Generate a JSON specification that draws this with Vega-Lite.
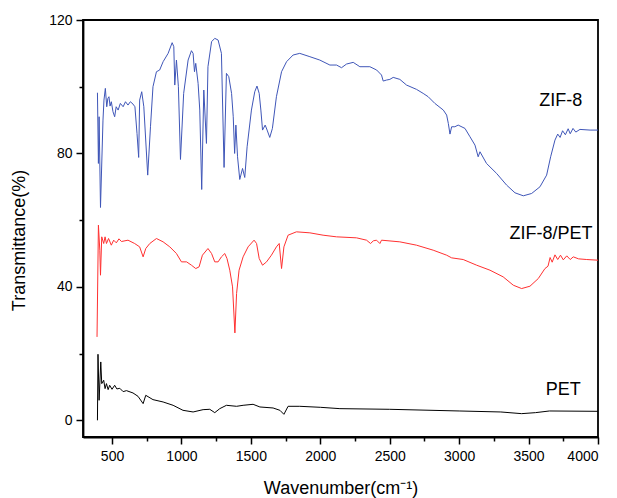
{
  "$schema": "https://vega.github.io/schema/vega-lite/v6.json",
  "width": 515,
  "height": 417,
  "padding": {"left": 83, "top": 20, "right": 19, "bottom": 61},
  "autosize": {"type": "none"},
  "background": "white",
  "config": {
    "view": {"stroke": "black", "strokeWidth": 1.8},
    "font": "Liberation Sans",
    "axis": {"domainColor": "black", "domainWidth": 1.8, "tickColor": "black", "tickWidth": 1.5, "labelColor": "black", "titleColor": "black", "labelFont": "Liberation Sans", "titleFont": "Liberation Sans", "grid": false}
  },
  "datasets": {
    "spec": [
      {"s":"ZIF-8","w":395,"t":98.2},{"s":"ZIF-8","w":402,"t":77},{"s":"ZIF-8","w":407,"t":91},{"s":"ZIF-8","w":417,"t":63.8},{"s":"ZIF-8","w":435,"t":90},{"s":"ZIF-8","w":442,"t":96},{"s":"ZIF-8","w":452,"t":99.5},{"s":"ZIF-8","w":462,"t":94},{"s":"ZIF-8","w":470,"t":96.5},{"s":"ZIF-8","w":478,"t":97},{"s":"ZIF-8","w":486,"t":94.2},{"s":"ZIF-8","w":495,"t":95.5},{"s":"ZIF-8","w":507,"t":92.5},{"s":"ZIF-8","w":519,"t":91},{"s":"ZIF-8","w":530,"t":94},{"s":"ZIF-8","w":544,"t":93},{"s":"ZIF-8","w":560,"t":95},{"s":"ZIF-8","w":580,"t":94},{"s":"ZIF-8","w":597,"t":95.5},{"s":"ZIF-8","w":615,"t":94.5},{"s":"ZIF-8","w":632,"t":95.5},{"s":"ZIF-8","w":651,"t":94.8},{"s":"ZIF-8","w":665,"t":94},{"s":"ZIF-8","w":680,"t":86},{"s":"ZIF-8","w":692,"t":78.8},{"s":"ZIF-8","w":699,"t":96},{"s":"ZIF-8","w":714,"t":98.5},{"s":"ZIF-8","w":729,"t":94},{"s":"ZIF-8","w":757,"t":73.5},{"s":"ZIF-8","w":777,"t":88},{"s":"ZIF-8","w":795,"t":100},{"s":"ZIF-8","w":820,"t":104.5},{"s":"ZIF-8","w":843,"t":105},{"s":"ZIF-8","w":868,"t":107.5},{"s":"ZIF-8","w":904,"t":110},{"s":"ZIF-8","w":933,"t":113.2},{"s":"ZIF-8","w":945,"t":112},{"s":"ZIF-8","w":952,"t":100.5},{"s":"ZIF-8","w":964,"t":108},{"s":"ZIF-8","w":978,"t":100},{"s":"ZIF-8","w":993,"t":78.2},{"s":"ZIF-8","w":1016,"t":98},{"s":"ZIF-8","w":1048,"t":108},{"s":"ZIF-8","w":1072,"t":110.8},{"s":"ZIF-8","w":1084,"t":110},{"s":"ZIF-8","w":1094,"t":104.5},{"s":"ZIF-8","w":1103,"t":107},{"s":"ZIF-8","w":1120,"t":101},{"s":"ZIF-8","w":1132,"t":93},{"s":"ZIF-8","w":1146,"t":69.2},{"s":"ZIF-8","w":1161,"t":99},{"s":"ZIF-8","w":1180,"t":83},{"s":"ZIF-8","w":1191,"t":106},{"s":"ZIF-8","w":1217,"t":113.5},{"s":"ZIF-8","w":1240,"t":114.5},{"s":"ZIF-8","w":1264,"t":114},{"s":"ZIF-8","w":1288,"t":110},{"s":"ZIF-8","w":1307,"t":75.8},{"s":"ZIF-8","w":1324,"t":104},{"s":"ZIF-8","w":1341,"t":103},{"s":"ZIF-8","w":1361,"t":98},{"s":"ZIF-8","w":1373,"t":91},{"s":"ZIF-8","w":1383,"t":80},{"s":"ZIF-8","w":1392,"t":88.5},{"s":"ZIF-8","w":1404,"t":79},{"s":"ZIF-8","w":1420,"t":72.2},{"s":"ZIF-8","w":1440,"t":75.5},{"s":"ZIF-8","w":1456,"t":72.8},{"s":"ZIF-8","w":1473,"t":82},{"s":"ZIF-8","w":1504,"t":93},{"s":"ZIF-8","w":1528,"t":98.5},{"s":"ZIF-8","w":1544,"t":100.2},{"s":"ZIF-8","w":1560,"t":98},{"s":"ZIF-8","w":1572,"t":93},{"s":"ZIF-8","w":1584,"t":87},{"s":"ZIF-8","w":1603,"t":88.5},{"s":"ZIF-8","w":1617,"t":87},{"s":"ZIF-8","w":1636,"t":84.8},{"s":"ZIF-8","w":1655,"t":87.5},{"s":"ZIF-8","w":1684,"t":97},{"s":"ZIF-8","w":1721,"t":104.5},{"s":"ZIF-8","w":1757,"t":107.5},{"s":"ZIF-8","w":1804,"t":109.5},{"s":"ZIF-8","w":1852,"t":110},{"s":"ZIF-8","w":1925,"t":109},{"s":"ZIF-8","w":1996,"t":108},{"s":"ZIF-8","w":2069,"t":106.5},{"s":"ZIF-8","w":2117,"t":106.5},{"s":"ZIF-8","w":2153,"t":105.7},{"s":"ZIF-8","w":2189,"t":106.8},{"s":"ZIF-8","w":2237,"t":107.3},{"s":"ZIF-8","w":2285,"t":106},{"s":"ZIF-8","w":2357,"t":106},{"s":"ZIF-8","w":2406,"t":105},{"s":"ZIF-8","w":2441,"t":103.5},{"s":"ZIF-8","w":2453,"t":101.7},{"s":"ZIF-8","w":2477,"t":102},{"s":"ZIF-8","w":2501,"t":102.2},{"s":"ZIF-8","w":2525,"t":102.8},{"s":"ZIF-8","w":2573,"t":102.2},{"s":"ZIF-8","w":2621,"t":100.5},{"s":"ZIF-8","w":2693,"t":99.2},{"s":"ZIF-8","w":2741,"t":98},{"s":"ZIF-8","w":2777,"t":97},{"s":"ZIF-8","w":2825,"t":95},{"s":"ZIF-8","w":2886,"t":93},{"s":"ZIF-8","w":2910,"t":91.5},{"s":"ZIF-8","w":2922,"t":89},{"s":"ZIF-8","w":2934,"t":85.8},{"s":"ZIF-8","w":2946,"t":88},{"s":"ZIF-8","w":2969,"t":88},{"s":"ZIF-8","w":2993,"t":88.5},{"s":"ZIF-8","w":3042,"t":87.5},{"s":"ZIF-8","w":3078,"t":85},{"s":"ZIF-8","w":3114,"t":82.5},{"s":"ZIF-8","w":3137,"t":79},{"s":"ZIF-8","w":3150,"t":80.5},{"s":"ZIF-8","w":3197,"t":77},{"s":"ZIF-8","w":3270,"t":74},{"s":"ZIF-8","w":3342,"t":70.5},{"s":"ZIF-8","w":3402,"t":68.2},{"s":"ZIF-8","w":3462,"t":67.3},{"s":"ZIF-8","w":3522,"t":68},{"s":"ZIF-8","w":3582,"t":70},{"s":"ZIF-8","w":3630,"t":73.5},{"s":"ZIF-8","w":3659,"t":79},{"s":"ZIF-8","w":3690,"t":84},{"s":"ZIF-8","w":3710,"t":85.8},{"s":"ZIF-8","w":3727,"t":84.8},{"s":"ZIF-8","w":3745,"t":86.8},{"s":"ZIF-8","w":3765,"t":85.6},{"s":"ZIF-8","w":3785,"t":87.4},{"s":"ZIF-8","w":3800,"t":85.9},{"s":"ZIF-8","w":3820,"t":87.5},{"s":"ZIF-8","w":3840,"t":86.4},{"s":"ZIF-8","w":3870,"t":87.2},{"s":"ZIF-8","w":3943,"t":87},{"s":"ZIF-8","w":4000,"t":87},
      {"s":"ZIF-8/PET","w":392,"t":25},{"s":"ZIF-8/PET","w":402,"t":58.5},{"s":"ZIF-8/PET","w":412,"t":51},{"s":"ZIF-8/PET","w":417,"t":43.5},{"s":"ZIF-8/PET","w":426,"t":55},{"s":"ZIF-8/PET","w":440,"t":53},{"s":"ZIF-8/PET","w":450,"t":55},{"s":"ZIF-8/PET","w":460,"t":53},{"s":"ZIF-8/PET","w":475,"t":54.5},{"s":"ZIF-8/PET","w":495,"t":52.5},{"s":"ZIF-8/PET","w":512,"t":54},{"s":"ZIF-8/PET","w":531,"t":53.2},{"s":"ZIF-8/PET","w":550,"t":54.4},{"s":"ZIF-8/PET","w":568,"t":53.6},{"s":"ZIF-8/PET","w":615,"t":54},{"s":"ZIF-8/PET","w":663,"t":53},{"s":"ZIF-8/PET","w":699,"t":52},{"s":"ZIF-8/PET","w":724,"t":49},{"s":"ZIF-8/PET","w":743,"t":51.5},{"s":"ZIF-8/PET","w":772,"t":53},{"s":"ZIF-8/PET","w":820,"t":54.5},{"s":"ZIF-8/PET","w":868,"t":53.5},{"s":"ZIF-8/PET","w":916,"t":52},{"s":"ZIF-8/PET","w":964,"t":50},{"s":"ZIF-8/PET","w":1000,"t":47.5},{"s":"ZIF-8/PET","w":1037,"t":47.5},{"s":"ZIF-8/PET","w":1072,"t":46.5},{"s":"ZIF-8/PET","w":1103,"t":45.5},{"s":"ZIF-8/PET","w":1127,"t":46},{"s":"ZIF-8/PET","w":1151,"t":49.5},{"s":"ZIF-8/PET","w":1191,"t":51.5},{"s":"ZIF-8/PET","w":1217,"t":50},{"s":"ZIF-8/PET","w":1240,"t":47.5},{"s":"ZIF-8/PET","w":1264,"t":47.5},{"s":"ZIF-8/PET","w":1288,"t":49},{"s":"ZIF-8/PET","w":1312,"t":50},{"s":"ZIF-8/PET","w":1328,"t":48.5},{"s":"ZIF-8/PET","w":1348,"t":45},{"s":"ZIF-8/PET","w":1368,"t":40},{"s":"ZIF-8/PET","w":1385,"t":26.2},{"s":"ZIF-8/PET","w":1397,"t":38},{"s":"ZIF-8/PET","w":1415,"t":45},{"s":"ZIF-8/PET","w":1444,"t":49},{"s":"ZIF-8/PET","w":1480,"t":52},{"s":"ZIF-8/PET","w":1523,"t":54},{"s":"ZIF-8/PET","w":1541,"t":53},{"s":"ZIF-8/PET","w":1560,"t":48.5},{"s":"ZIF-8/PET","w":1584,"t":46.5},{"s":"ZIF-8/PET","w":1613,"t":47.5},{"s":"ZIF-8/PET","w":1648,"t":49.5},{"s":"ZIF-8/PET","w":1684,"t":52},{"s":"ZIF-8/PET","w":1704,"t":53},{"s":"ZIF-8/PET","w":1721,"t":45.5},{"s":"ZIF-8/PET","w":1738,"t":52},{"s":"ZIF-8/PET","w":1768,"t":55.5},{"s":"ZIF-8/PET","w":1828,"t":56.5},{"s":"ZIF-8/PET","w":1925,"t":56.2},{"s":"ZIF-8/PET","w":2020,"t":55.5},{"s":"ZIF-8/PET","w":2117,"t":55},{"s":"ZIF-8/PET","w":2261,"t":54.7},{"s":"ZIF-8/PET","w":2333,"t":54},{"s":"ZIF-8/PET","w":2362,"t":53},{"s":"ZIF-8/PET","w":2382,"t":53.8},{"s":"ZIF-8/PET","w":2405,"t":54},{"s":"ZIF-8/PET","w":2429,"t":53},{"s":"ZIF-8/PET","w":2441,"t":54},{"s":"ZIF-8/PET","w":2573,"t":53.5},{"s":"ZIF-8/PET","w":2693,"t":52.5},{"s":"ZIF-8/PET","w":2813,"t":51},{"s":"ZIF-8/PET","w":2910,"t":49.5},{"s":"ZIF-8/PET","w":2946,"t":48.7},{"s":"ZIF-8/PET","w":3029,"t":48.2},{"s":"ZIF-8/PET","w":3126,"t":46.5},{"s":"ZIF-8/PET","w":3222,"t":45},{"s":"ZIF-8/PET","w":3317,"t":43},{"s":"ZIF-8/PET","w":3390,"t":40.5},{"s":"ZIF-8/PET","w":3450,"t":39.5},{"s":"ZIF-8/PET","w":3510,"t":40.2},{"s":"ZIF-8/PET","w":3570,"t":42.5},{"s":"ZIF-8/PET","w":3618,"t":45.5},{"s":"ZIF-8/PET","w":3640,"t":46.2},{"s":"ZIF-8/PET","w":3655,"t":48.8},{"s":"ZIF-8/PET","w":3670,"t":47.4},{"s":"ZIF-8/PET","w":3690,"t":49.6},{"s":"ZIF-8/PET","w":3710,"t":48.2},{"s":"ZIF-8/PET","w":3730,"t":49.5},{"s":"ZIF-8/PET","w":3750,"t":48.1},{"s":"ZIF-8/PET","w":3775,"t":49.3},{"s":"ZIF-8/PET","w":3800,"t":48.2},{"s":"ZIF-8/PET","w":3822,"t":49},{"s":"ZIF-8/PET","w":3860,"t":48.4},{"s":"ZIF-8/PET","w":3919,"t":48.2},{"s":"ZIF-8/PET","w":4000,"t":48},
      {"s":"PET","w":395,"t":0},{"s":"PET","w":399,"t":19.8},{"s":"PET","w":407,"t":6},{"s":"PET","w":419,"t":17.5},{"s":"PET","w":426,"t":11},{"s":"PET","w":440,"t":12},{"s":"PET","w":450,"t":9.5},{"s":"PET","w":460,"t":11},{"s":"PET","w":472,"t":9.2},{"s":"PET","w":483,"t":10.5},{"s":"PET","w":500,"t":9.3},{"s":"PET","w":519,"t":10.5},{"s":"PET","w":535,"t":9.4},{"s":"PET","w":556,"t":9.6},{"s":"PET","w":580,"t":8.6},{"s":"PET","w":604,"t":8.9},{"s":"PET","w":651,"t":8.2},{"s":"PET","w":687,"t":7.2},{"s":"PET","w":724,"t":5},{"s":"PET","w":743,"t":7.5},{"s":"PET","w":795,"t":6.2},{"s":"PET","w":868,"t":5.5},{"s":"PET","w":940,"t":4.5},{"s":"PET","w":1011,"t":3},{"s":"PET","w":1084,"t":2.5},{"s":"PET","w":1156,"t":3.2},{"s":"PET","w":1204,"t":3.3},{"s":"PET","w":1240,"t":2.3},{"s":"PET","w":1276,"t":3.5},{"s":"PET","w":1324,"t":4.5},{"s":"PET","w":1397,"t":4.2},{"s":"PET","w":1444,"t":4.5},{"s":"PET","w":1516,"t":4.8},{"s":"PET","w":1565,"t":4},{"s":"PET","w":1660,"t":3.7},{"s":"PET","w":1709,"t":3},{"s":"PET","w":1738,"t":1.8},{"s":"PET","w":1768,"t":4.2},{"s":"PET","w":1852,"t":4.2},{"s":"PET","w":2000,"t":3.9},{"s":"PET","w":2141,"t":3.5},{"s":"PET","w":2500,"t":3.3},{"s":"PET","w":3000,"t":2.8},{"s":"PET","w":3300,"t":2.5},{"s":"PET","w":3450,"t":2.0},{"s":"PET","w":3550,"t":2.3},{"s":"PET","w":3650,"t":2.8},{"s":"PET","w":4000,"t":2.7}
    ],
    "labels": [
      {"name":"ZIF-8","w":3731,"t":95.7},
      {"name":"ZIF-8/PET","w":3661,"t":56},
      {"name":"PET","w":3750,"t":9.2}
    ]
  },
  "layer": [
    {
      "data": {"name": "spec"},
      "mark": {"type": "line", "strokeWidth": 1, "clip": true},
      "encoding": {
        "x": {"field": "w", "type": "quantitative", "scale": {"domain": [291, 4000], "nice": false, "zero": false},
          "axis": {"orient": "bottom", "values": [500,1000,1500,2000,2500,3000,3500,4000], "format": "d", "tickSize": 7, "labelFontSize": 14, "labelPadding": 5, "title": "Wavenumber(cm⁻¹)", "titleFontSize": 18, "titleFontWeight": "normal", "titleBaseline": "middle", "titleY": 51}},
        "y": {"field": "t", "type": "quantitative", "scale": {"domain": [-5, 120], "nice": false, "zero": false},
          "axis": {"orient": "left", "values": [0,40,80,120], "format": "d", "tickSize": 7, "labelFontSize": 14, "labelPadding": 4, "title": "Transmittance(%)", "titleFontSize": 18, "titleFontWeight": "normal", "titleBaseline": "middle", "titleX": -64, "titleY": 220, "titleAngle": -90}},
        "color": {"field": "s", "type": "nominal", "scale": {"domain": ["ZIF-8","ZIF-8/PET","PET"], "range": ["#3f56b8","#ff3030","#000000"]}, "legend": null}
      }
    },
    {
      "data": {"name": "labels"},
      "mark": {"type": "text", "fontSize": 18, "font": "Liberation Sans", "align": "center", "baseline": "middle", "color": "black"},
      "encoding": {
        "x": {"field": "w", "type": "quantitative", "axis": null},
        "y": {"field": "t", "type": "quantitative", "axis": null},
        "text": {"field": "name"}
      }
    },
    {
      "data": {"name": "labels"},
      "mark": {"type": "point", "opacity": 0},
      "encoding": {
        "x": {"field": "w", "type": "quantitative",
          "axis": {"orient": "bottom", "values": [750,1250,1750,2250,2750,3250,3750], "tickSize": 4, "labels": false, "domain": false, "title": null}},
        "y": {"field": "t", "type": "quantitative",
          "axis": {"orient": "left", "values": [20,60,100], "tickSize": 4, "labels": false, "domain": false, "title": null}}
      }
    }
  ],
  "resolve": {"axis": {"x": "independent", "y": "independent"}}
}
